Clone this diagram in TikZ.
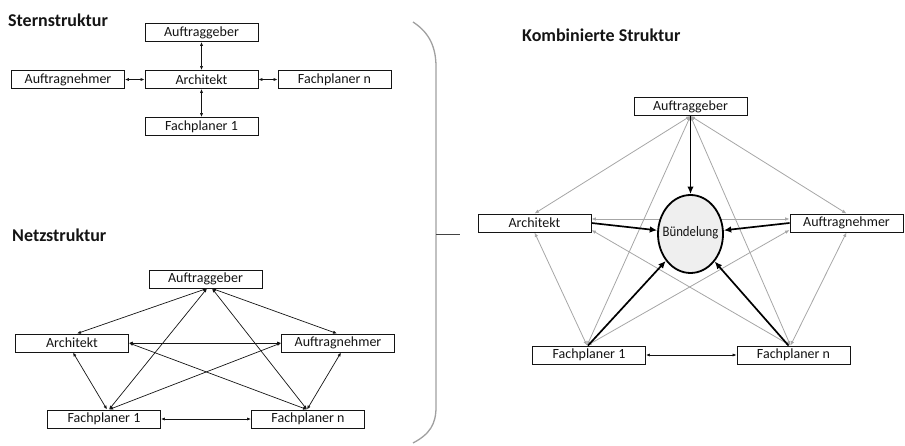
\documentclass[tikz,border=0pt]{standalone}
\usepackage{fontspec}
\setmainfont{Carlito}
\newfontfamily\narrowfont[FakeStretch=0.88]{Carlito}
\usetikzlibrary{arrows.meta,shapes.geometric}

\definecolor{linkgray}{HTML}{A6A6A6}
\definecolor{bracegray}{HTML}{A0A0A0}
\definecolor{inkdark}{HTML}{141414}
\definecolor{bundlefill}{HTML}{EFEFEF}

\tikzset{
  box/.style={draw=inkdark, line width=0.9pt, fill=white, minimum width=113pt,
    minimum height=18pt, inner sep=0pt, text=inkdark, font=\fontsize{14}{15}\selectfont},
  heading/.style={anchor=west, inner sep=0pt, text=inkdark, font=\bfseries\fontsize{18}{20}\selectfont},
  link/.style={draw=inkdark, line width=0.7pt, {Latex[length=4pt,width=3.2pt]}-{Latex[length=4pt,width=3.2pt]}},
  softlink/.style={draw=linkgray, line width=0.8pt, {Latex[length=4.5pt,width=3.6pt]}-{Latex[length=4.5pt,width=3.6pt]}},
  strong/.style={draw=black, line width=1.7pt, -{Latex[length=7.5pt,width=6.5pt]}},
  bundle/.style={ellipse, draw=black, line width=1.8pt, fill=bundlefill, minimum width=65pt,
    minimum height=78pt, inner sep=0pt},
  bundletext/.style={inner sep=0pt, text=inkdark, font=\narrowfont\fontsize{14.5}{16}\selectfont}
}

\begin{document}
\begin{tikzpicture}[x=1pt,y=-1pt]
\useasboundingbox (0,0) rectangle (905,446);

% ---------- headings ----------
\node[heading] (hStern) at (8,20) {Sternstruktur};
\node[heading] (hNetz) at (12,235) {Netzstruktur};
\node[heading] (hKomb) at (522,35) {Kombinierte Struktur};

% ---------- brace separating the two sides ----------
\draw[bracegray, line width=1.3pt]
  (413,22) .. controls (430,33) and (436,48) .. (436,67) -- (436,407)
  .. controls (436,424) and (430,434) .. (413,443);
\coordinate (braceTip) at (436,234);
\coordinate (braceEnd) at (460,234);
\draw[inkdark!80, line width=0.9pt] (braceTip) -- (braceEnd);

% ---------- star structure ----------
\node[box] (sAG) at (201.5,32.5) {Auftraggeber};
\node[box] (sAR) at (201.5,79.5) {Architekt};
\node[box] (sAN) at (68,79.5) {Auftragnehmer};
\node[box] (sFn) at (334.5,79.5) {Fachplaner n};
\node[box] (sF1) at (201.5,126.5) {Fachplaner 1};

\draw[link] (sAG.south) -- (sAR.north);
\draw[link] (sAR.south) -- (sF1.north);
\draw[link] (sAN.east) -- (sAR.west);
\draw[link] (sAR.east) -- (sFn.west);

% ---------- net structure ----------
\node[box] (nAG) at (205.5,279) {Auftraggeber};
\node[box] (nAR) at (72,343) {Architekt};
\node[box] (nAN) at (338,343) {Auftragnehmer};
\node[box] (nF1) at (104,419) {Fachplaner 1};
\node[box] (nFn) at (308,419) {Fachplaner n};

\draw[link] ([xshift=1.5pt]nAG.south) -- ([xshift=5pt]nAR.north);
\draw[link] ([xshift=6.5pt]nAG.south) -- ([xshift=-1pt]nAN.north);
\draw[link] ([xshift=1.5pt]nAG.south) -- ([xshift=5pt]nF1.north);
\draw[link] ([xshift=6.5pt]nAG.south) -- ([xshift=-1pt]nFn.north);
\draw[link] (nAR.east) -- (nAN.west);
\draw[link] (nAR.east) -- ([xshift=-1pt]nFn.north);
\draw[link] ([xshift=5pt]nF1.north) -- (nAN.west);
\draw[link] ([xshift=1pt]nAR.south) -- ([xshift=3pt]nF1.north);
\draw[link] ([xshift=3pt]nAN.south) -- ([xshift=-1pt]nFn.north);
\draw[link] (nF1.east) -- (nFn.west);

% ---------- combined structure ----------
\node[box] (cAG) at (690.5,106.5) {Auftraggeber};
\node[box] (cAR) at (534.5,223) {Architekt};
\node[box] (cAN) at (846.5,223) {Auftragnehmer};
\node[box] (cF1) at (589,355) {Fachplaner 1};
\node[box] (cFn) at (793.5,355) {Fachplaner n};

% direct links between all parties (grey)
\draw[softlink] (cAG.south) -- (cAR.north);
\draw[softlink] (cAG.south) -- (cAN.north);
\draw[softlink] (cAG.south) -- ([xshift=-2pt]cF1.north);
\draw[softlink] (cAG.south) -- ([xshift=-3pt]cFn.north);
\draw[softlink] ([yshift=4pt]cAR.east) -- ([yshift=4pt]cAN.west);
\draw[softlink] ([yshift=-7pt]cAR.east) -- ([xshift=-3pt]cFn.north);
\draw[softlink] ([xshift=-2pt]cF1.north) -- ([yshift=-7pt]cAN.west);
\draw[softlink] (cAR.south) -- ([xshift=-2pt]cF1.north);
\draw[softlink] (cAN.south) -- ([xshift=-3pt]cFn.north);

% central bundling node
\node[bundle] (bund) at (690.5,234) {};
\node[bundletext] (bundlabel) at ([yshift=1pt]bund.center) {Bündelung};

% bundled flows (black, thick)
\draw[strong] (cAG.south) -- (bund);
\draw[strong] (cAR.east) -- (bund);
\draw[strong] (cAN.west) -- (bund);
\draw[strong] ([xshift=-1pt]cF1.north) -- (bund);
\draw[strong] ([xshift=-5pt]cFn.north) -- (bund);

\draw[link] (cF1.east) -- (cFn.west);

% redraw boxes on top of the line ends
\foreach \n/\t in {cAG/Auftraggeber, cAR/Architekt, cAN/Auftragnehmer, cF1/Fachplaner 1, cFn/Fachplaner n}
  \node[box] at (\n) {\t};
\end{tikzpicture}
\end{document}
